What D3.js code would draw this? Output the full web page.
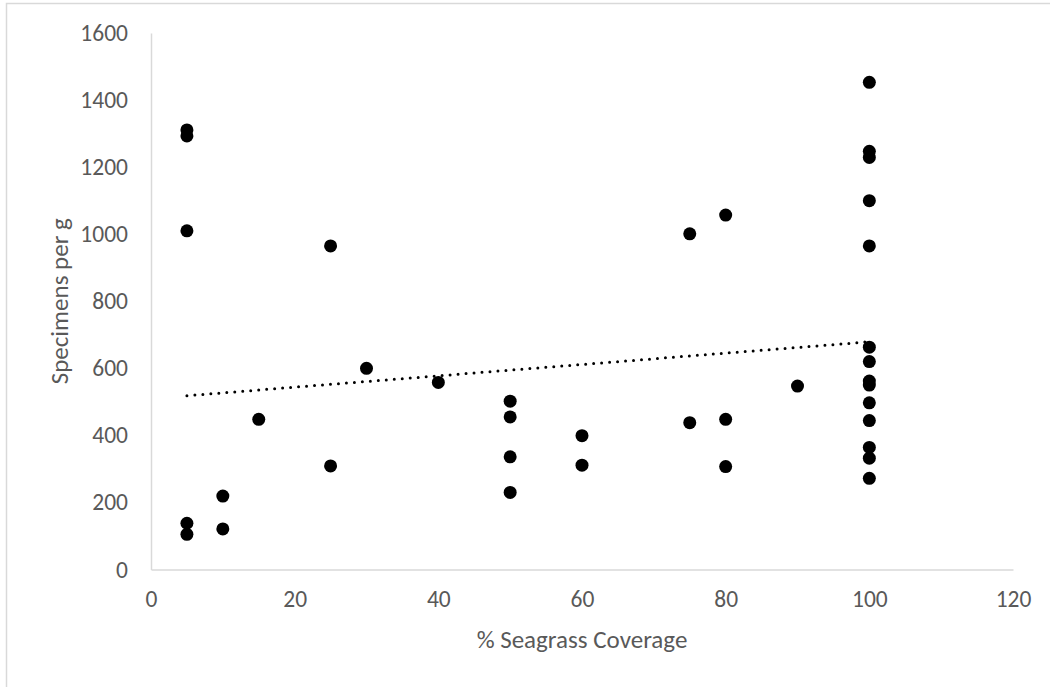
<!DOCTYPE html>
<html>
<head>
<meta charset="utf-8">
<script src="https://cdn.jsdelivr.net/npm/d3@7"></script>
<style>
  body { margin: 0; background: #fff; }
  text { font-family: Calibri, Carlito, Lato, sans-serif; fill: #595959; }
</style>
</head>
<body>
<script>
var w = 1050,
    h = 687;

// % seagrass coverage per sample
var coverage = [5, 5, 5, 5, 5, 10, 10, 15, 25, 25, 30, 40, 50, 50, 50, 50, 60, 60,
                75, 75, 80, 80, 80, 90,
                100, 100, 100, 100, 100, 100, 100, 100, 100, 100, 100, 100, 100, 100];
// specimens per g
var specimens = [1311, 1293, 1010, 138, 105, 219, 121, 448, 965, 309, 600, 558, 502, 455, 336, 230, 399, 311,
                 1001, 438, 1057, 448, 307, 547,
                 1453, 1247, 1229, 1100, 965, 663, 620, 562, 550, 497, 444, 364, 332, 272];

var xTicks = [0, 20, 40, 60, 80, 100, 120];
var yTicks = [0, 200, 400, 600, 800, 1000, 1200, 1400, 1600];

var plotLeft = 151, plotRight = 1013, plotTop = 33, plotBottom = 569.5;

var x = d3.scaleLinear().domain([0, 120]).range([plotLeft, plotRight]);
var y = d3.scaleLinear().domain([0, 1600]).range([plotBottom, plotTop]);

var svg = d3.select("body")
          .append("svg")
          .attr("width", w)
          .attr("height", h);

// chart border
svg.append("rect")
   .attr("x", 6.5).attr("y", 3.5)
   .attr("width", 1060).attr("height", 700)
   .attr("fill", "none")
   .attr("stroke", "#d9d9d9")
   .attr("stroke-width", 1.5);

// axes
var xAxis = svg.append("g")
   .attr("transform", "translate(0," + plotBottom + ")")
   .call(d3.axisBottom(x).tickValues(xTicks).tickSize(0).tickPadding(21).tickFormat(d3.format("d")));

var yAxis = svg.append("g")
   .attr("transform", "translate(" + plotLeft + ",0)")
   .call(d3.axisLeft(y).tickValues(yTicks).tickSize(0).tickPadding(23).tickFormat(d3.format("d")));

[xAxis, yAxis].forEach(function(g) {
  g.select(".domain").attr("stroke", "#d9d9d9").attr("stroke-width", 1.5);
  g.selectAll("text").attr("font-size", 23.5).attr("fill", "#595959")
   .style("font-family", "Calibri, Carlito, Lato, sans-serif");
});

// trend line (least squares)
var n = coverage.length;
var mx = d3.mean(coverage), my = d3.mean(specimens);
var sxy = 0, sxx = 0;
for (var i = 0; i < n; i++) {
  sxy += (coverage[i] - mx) * (specimens[i] - my);
  sxx += (coverage[i] - mx) * (coverage[i] - mx);
}
var slope = sxy / sxx;
var intercept = my - slope * mx;
var xr = d3.extent(coverage);

svg.append("line")
   .attr("x1", x(xr[0])).attr("y1", y(intercept + slope * xr[0]))
   .attr("x2", x(xr[1])).attr("y2", y(intercept + slope * xr[1]))
   .attr("stroke", "#000")
   .attr("stroke-width", 3)
   .attr("stroke-linecap", "round")
   .attr("stroke-dasharray", "0 8");

// points
svg.selectAll("circle")
   .data(d3.range(n))
   .enter()
   .append("circle")
   .attr("cx", function(i) { return x(coverage[i]); })
   .attr("cy", function(i) { return y(specimens[i]); })
   .attr("r", 6.5)
   .attr("fill", "#000");

// axis titles
svg.append("text")
   .attr("x", (plotLeft + plotRight) / 2)
   .attr("y", 642)
   .attr("text-anchor", "middle")
   .attr("dominant-baseline", "middle")
   .attr("font-size", 25)
   .text("% Seagrass Coverage");

svg.append("text")
   .attr("transform", "translate(62," + (plotTop + plotBottom) / 2 + ") rotate(-90)")
   .attr("text-anchor", "middle")
   .attr("dominant-baseline", "middle")
   .attr("font-size", 25)
   .text("Specimens per g");
</script>
</body>
</html>
